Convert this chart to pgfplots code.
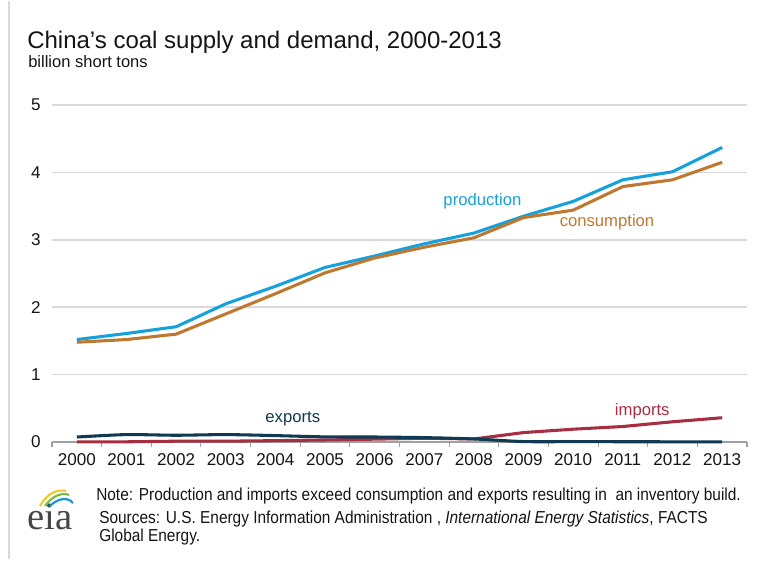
\documentclass[border=0pt]{standalone}
\usepackage{pgfplots}
\pgfplotsset{compat=1.18}
\usepackage{graphicx}
\usepackage{fontspec}
\setmainfont{Liberation Sans}
\newfontfamily\seriffont{Liberation Serif}
\definecolor{prodc}{RGB}{22,160,220}
\definecolor{consc}{RGB}{190,120,48}
\definecolor{expc}{RGB}{14,58,83}
\definecolor{impc}{RGB}{166,46,64}
\definecolor{gridc}{RGB}{217,217,217}
\definecolor{axisc}{RGB}{160,160,160}
\definecolor{textc}{RGB}{20,20,20}
\begin{document}
\begin{tikzpicture}[x=0.75pt,y=0.75pt]
\path (0,0) rectangle (759,558);
\draw[color=gridc,line width=1.5pt] (9,0) -- (9,558);
\begin{axis}[
  at={(39pt,87.75pt)}, anchor=origin,
  scale only axis, width=521.25pt, height=252.75pt,
  xmin=1999.5, xmax=2013.5, ymin=0, ymax=5,
  axis x line*=bottom, axis y line*=left,
  x axis line style={-, color=axisc, line width=1.1pt},
  y axis line style={draw=none},
  xtick={2000,...,2013},
  minor xtick={1999.5,2000.5,...,2013.5},
  ytick={0,1,2,3,4,5},
  major tick length=0pt,
  minor tick length=3.75pt,
  tick align=outside,
  minor tick style={color=axisc, line width=0.8pt},
  ymajorgrids, grid style={color=gridc, line width=1.1pt},
  xticklabel style={font=\fontsize{12.8}{14}\selectfont, text=textc, yshift=-5pt},
  yticklabel style={font=\fontsize{12.8}{14}\selectfont, text=textc, xshift=-5pt},
  /pgf/number format/1000 sep={},
  /pgf/number format/assume math mode=true,
  clip=false,
]
\addplot[color=prodc, line width=2.3pt] coordinates {
(2000,1.52) (2001,1.61) (2002,1.71) (2003,2.05) (2004,2.31) (2005,2.59) (2006,2.76)
(2007,2.94) (2008,3.10) (2009,3.35) (2010,3.57) (2011,3.89) (2012,4.01) (2013,4.37)};
\addplot[color=consc, line width=2.3pt] coordinates {
(2000,1.48) (2001,1.52) (2002,1.60) (2003,1.90) (2004,2.20) (2005,2.51) (2006,2.73)
(2007,2.89) (2008,3.03) (2009,3.33) (2010,3.44) (2011,3.79) (2012,3.89) (2013,4.15)};
\addplot[color=impc, line width=2.3pt] coordinates {
(2000,0.003) (2001,0.003) (2002,0.012) (2003,0.012) (2004,0.020) (2005,0.030) (2006,0.042)
(2007,0.056) (2008,0.045) (2009,0.14) (2010,0.19) (2011,0.23) (2012,0.30) (2013,0.36)};
\addplot[color=expc, line width=2.3pt, smooth, tension=0.4] coordinates {
(2000,0.074) (2001,0.11) (2002,0.10) (2003,0.11) (2004,0.095) (2005,0.076) (2006,0.074)
(2007,0.065) (2008,0.045) (2009,0.006) (2010,0.005) (2011,0.004) (2012,0.003) (2013,0.003)};
\node[text=prodc, font=\fontsize{12.5}{14}\selectfont] at (axis cs:2008.17,3.58) {production};
\node[text=consc, font=\fontsize{12.5}{14}\selectfont] at (axis cs:2010.68,3.26) {consumption};
\node[text=expc, font=\fontsize{12.5}{14}\selectfont] at (axis cs:2004.35,0.34) {exports};
\node[text=impc, font=\fontsize{12.5}{14}\selectfont] at (axis cs:2011.39,0.46) {imports};
\end{axis}
% title
\node[anchor=base west, inner sep=0, text=textc, font=\fontsize{18}{20}\selectfont] at (27,{558-48}) {China's coal supply and demand, 2000-2013};
\node[anchor=base west, inner sep=0, text=textc, font=\fontsize{12.4}{14}\selectfont] at (28,{558-67}) {billion short tons};
% notes
\node[anchor=base west, inner sep=0, text=textc, font=\fontsize{13}{14}\selectfont] at (96,{558-499}) {\scalebox{0.89}[1]{Note: Production and imports exceed consumption and exports resulting in\ \ an inventory build.}};
\node[anchor=base west, inner sep=0, text=textc, font=\fontsize{13}{14}\selectfont] at (99,{558-522}) {\scalebox{0.89}[1]{Sources: U.S. Energy Information Administration , \textit{International Energy Statistics}, FACTS}};
\node[anchor=base west, inner sep=0, text=textc, font=\fontsize{13}{14}\selectfont] at (99,{558-540}) {\scalebox{0.89}[1]{Global Energy.}};
% eia logo
\node[anchor=base west, inner sep=0, text={rgb,255:red,70;green,70;blue,70}, font=\seriffont\fontsize{29}{30}\selectfont] at (27,{558-528}) {eia};
\draw[color={rgb,255:red,240;green,200;blue,40}, line width=1.6pt] (40,{558-505}) .. controls (47,{558-492}) and (58,{558-488}) .. (66,{558-490});
\draw[color={rgb,255:red,120;green,190;blue,60}, line width=1.6pt] (45,{558-505}) .. controls (52,{558-495}) and (62,{558-491}) .. (69,{558-494});
\draw[color={rgb,255:red,20;green,150;blue,215}, line width=1.6pt] (50,{558-505}) .. controls (57,{558-498}) and (67,{558-495}) .. (73,{558-502});
\end{tikzpicture}
\end{document}
